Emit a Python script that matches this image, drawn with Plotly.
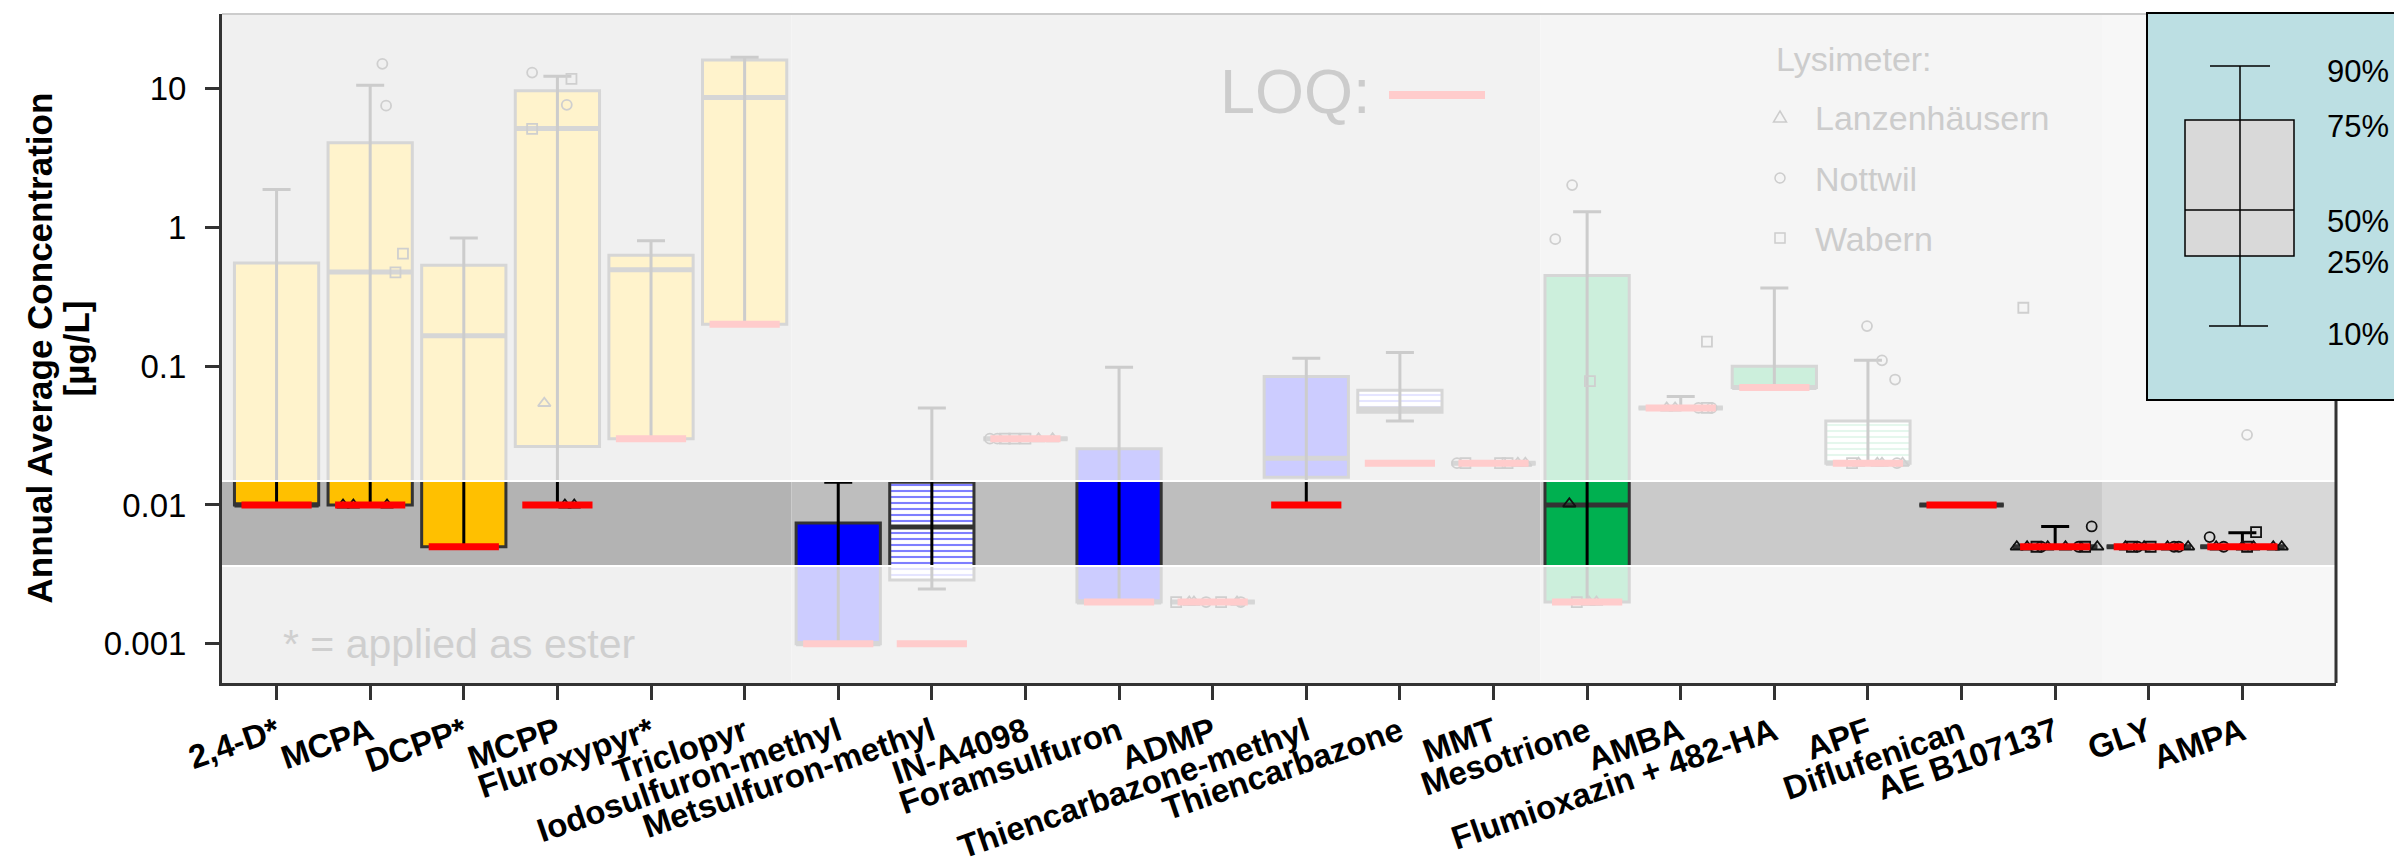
import plotly.graph_objects as go

# ---------------- data ----------------
categories = ["2,4-D*", "MCPA", "DCPP*", "MCPP", "Fluroxypyr*", "Triclopyr",
              "Iodosulfuron-methyl", "Metsulfuron-methyl", "IN-A4098", "Foramsulfuron",
              "ADMP", "Thiencarbazone-methyl", "Thiencarbazone", "MMT", "Mesotrione",
              "AMBA", "Flumioxazin + 482-HA", "APF", "Diflufenican", "AE B107137",
              "GLY", "AMPA"]
p10 = [0.01, 0.01, 0.005, 0.01, 0.03, 0.2, 0.001, 0.00248, 0.03, 0.002, 0.002,
       0.01, 0.0403, 0.02, 0.002, 0.05, 0.07, 0.02, 0.01, 0.005, 0.005, 0.005]
q1 = [0.01, 0.01, 0.005, 0.0264, 0.03, 0.2, 0.001, 0.00288, 0.03, 0.002, 0.002,
      0.0158, 0.0465, 0.02, 0.002, 0.05, 0.07, 0.02, 0.01, 0.005, 0.005, 0.005]
median = [0.01, 0.476, 0.165, 5.13, 0.494, 8.6, 0.001, 0.00695, 0.03, 0.002, 0.002,
          0.0217, 0.049, 0.02, 0.01, 0.05, 0.07, 0.02, 0.01, 0.005, 0.005, 0.005]
q3 = [0.553, 4.05, 0.533, 9.6, 0.628, 15.97, 0.0074, 0.0146, 0.03, 0.0254, 0.002,
      0.084, 0.0671, 0.02, 0.449, 0.05, 0.0996, 0.0403, 0.01, 0.005, 0.005, 0.005]
p90 = [1.87, 10.5, 0.837, 12.2, 0.80, 16.7, 0.0146, 0.0499, 0.03, 0.098, 0.002,
       0.114, 0.125, 0.02, 1.29, 0.0605, 0.365, 0.11, 0.01, 0.007, 0.005, 0.0063]
loq = [0.01, 0.01, 0.005, 0.01, 0.03, 0.2, 0.001, 0.001, 0.03, 0.002, 0.002,
       0.01, 0.02, 0.02, 0.002, 0.05, 0.07, 0.02, 0.01, 0.005, 0.005, 0.005]
box_fill = ["#ffc000"] * 6 + ["#0000ff", "stripe:#0000ff", "flat", "#0000ff", "flat",
            "#0000ff", "stripe:#0000ff", "flat", "#00b050", "flat", "#00b050",
            "stripe:#00b050", "flat", "flat", "flat", "flat"]

# single lysimeter values (category index, horizontal jitter, value, site)
pt_cat = [1, 1, 1, 1, 1, 1, 1,
          3, 3, 3, 3, 3, 3, 3,
          8, 8, 8, 8, 8, 8, 8,
          10, 10, 10, 10, 10, 10, 10,
          13, 13, 13, 13, 13, 13,
          14, 14, 14, 14, 14, 14, 14,
          15, 15, 15, 15, 15, 15,
          17, 17, 17, 17, 17, 17, 17, 17, 17,
          19, 19, 19, 19, 19, 19, 19, 19, 19, 19, 19,
          20, 20, 20, 20, 20, 20, 20, 20, 20,
          21, 21, 21, 21, 21, 21, 21, 21, 21, 21]
pt_jitter = [0.13, 0.17, 0.35, 0.27, -0.29, -0.18, 0.18,
             -0.27, 0.15, 0.10, -0.27, -0.14, 0.08, 0.18,
             -0.38, -0.22, -0.12, 0.0, 0.14, 0.29, -0.30,
             -0.39, -0.25, -0.20, -0.07, 0.09, 0.26, 0.30,
             -0.39, -0.30, 0.07, 0.15, 0.26, 0.34,
             -0.16, -0.34, 0.03, -0.19, -0.11, 0.02, 0.10,
             0.28, -0.15, -0.06, 0.19, 0.28, 0.33,
             -0.01, 0.15, 0.29, -0.17, -0.10, 0.10, 0.15, 0.31, 0.37,
             -0.34, 0.39, -0.41, -0.30, -0.20, -0.15, -0.08, 0.11, 0.25, 0.32, 0.45,
             -0.25, -0.18, -0.12, -0.05, 0.02, 0.20, 0.27, 0.32, 0.42,
             0.05, -0.35, 0.146, -0.28, 0.0, 0.05, 0.12, 0.33, 0.42, -0.20]
pt_value = [15.0, 7.5, 0.645, 0.473, 0.01, 0.01, 0.01,
            12.97, 11.7, 7.6, 5.1, 0.054, 0.01, 0.01,
            0.03, 0.03, 0.03, 0.03, 0.03, 0.03, 0.03,
            0.002, 0.002, 0.002, 0.002, 0.002, 0.002, 0.002,
            0.02, 0.02, 0.02, 0.02, 0.02, 0.02,
            2.01, 0.82, 0.078, 0.0102, 0.002, 0.002, 0.002,
            0.15, 0.05, 0.05, 0.05, 0.05, 0.05,
            0.194, 0.11, 0.080, 0.02, 0.02, 0.02, 0.02, 0.02, 0.02,
            0.263, 0.007, 0.005, 0.005, 0.005, 0.005, 0.005, 0.005, 0.005, 0.005, 0.005,
            0.005, 0.005, 0.005, 0.005, 0.005, 0.005, 0.005, 0.005, 0.005,
            0.032, 0.00587, 0.00638, 0.005, 0.005, 0.005, 0.005, 0.005, 0.005, 0.005]
pt_site = ["N", "N", "W", "W", "L", "L", "L",
           "N", "W", "N", "W", "L", "L", "L",
           "N", "W", "W", "W", "L", "L", "N",
           "W", "L", "L", "N", "W", "L", "N",
           "N", "W", "W", "W", "L", "L",
           "N", "N", "W", "L", "W", "L", "L",
           "W", "L", "L", "N", "W", "N",
           "N", "N", "N", "W", "L", "L", "L", "N", "L",
           "W", "N", "L", "L", "W", "N", "L", "L", "N", "W", "L",
           "L", "W", "N", "L", "W", "L", "N", "N", "L",
           "N", "N", "W", "L", "L", "W", "L", "L", "L", "N"]
site_names = {"L": "Lanzenhäusern", "N": "Nottwil", "W": "Wabern"}
site_symbols = {"L": "triangle-up-open", "N": "circle-open", "W": "square-open"}

group_first = [0, 6, 14, 20]
group_last = [5, 13, 19, 21]
group_color = ["#b3b3b3", "#bebebe", "#cacaca", "#d8d8d8"]

band_low, band_high = 0.00363, 0.0149
legend_pct = ["90%", "75%", "50%", "25%", "10%"]

# ---------------- layout geometry ----------------
W, H = 2402, 860
ML, MR, MT, MB = 214, 74, 6, 185
X_RANGE = [-0.583, 22.0]
Y_RANGE = [-3.282, 1.535]
FONT = "Liberation Sans, Arial, Helvetica, sans-serif"
BOX_W = 0.9
LOQ_HALF = 0.375


def px(x):
    return (x - ML) / (W - ML - MR)


def py(y):
    return (H - MB - y) / (H - MT - MB)


n = len(categories)
idx = list(range(n))
fig = go.Figure()

# patterned (striped) boxes as bars underneath
for col in ["#0000ff", "#00b050"]:
    sel = [i for i in idx if box_fill[i] == "stripe:" + col]
    fig.add_trace(go.Bar(
        x=sel, base=[q1[i] for i in sel], y=[q3[i] - q1[i] for i in sel],
        width=BOX_W, marker=dict(color="white", line=dict(width=0),
                                 pattern=dict(shape="-", fgcolor=col, bgcolor="white",
                                              size=6, solidity=0.35)),
        hoverinfo="skip", showlegend=False))

# boxes
fill_keys = []
for f in box_fill:
    if f not in fill_keys:
        fill_keys.append(f)
for f in fill_keys:
    sel = [i for i in idx if box_fill[i] == f]
    fc = f if f.startswith("#") else "rgba(0,0,0,0)"
    fig.add_trace(go.Box(
        x=sel, q1=[q1[i] for i in sel], median=[median[i] for i in sel],
        q3=[q3[i] for i in sel], lowerfence=[q1[i] for i in sel],
        upperfence=[q3[i] for i in sel], width=BOX_W, whiskerwidth=0,
        fillcolor=fc, line=dict(color="#333333", width=3),
        boxpoints=False, hoverinfo="skip", showlegend=False))

# thick median lines
mx, my = [], []
for i in idx:
    mx += [i - BOX_W / 2, i + BOX_W / 2, None]
    my += [median[i], median[i], None]
fig.add_trace(go.Scatter(x=mx, y=my, mode="lines",
                         line=dict(color="#333333", width=5),
                         hoverinfo="skip", showlegend=False))

# whiskers 10% - 90%
fig.add_trace(go.Scatter(
    x=idx, y=median, mode="markers",
    marker=dict(size=1, color="rgba(0,0,0,0)"),
    error_y=dict(type="data", symmetric=False,
                 array=[p90[i] - median[i] for i in idx],
                 arrayminus=[median[i] - p10[i] for i in idx],
                 color="black", thickness=3, width=14),
    hoverinfo="skip", showlegend=False))

# single values per lysimeter
for s in ["L", "N", "W"]:
    sel = [k for k in range(len(pt_cat)) if pt_site[k] == s]
    fig.add_trace(go.Scatter(
        x=[pt_cat[k] + pt_jitter[k] for k in sel], y=[pt_value[k] for k in sel],
        mode="markers", name=site_names[s],
        marker=dict(symbol=site_symbols[s], size=11 if s == "L" else 10,
                    color="#111111", line=dict(width=1.8)),
        hoverinfo="skip", showlegend=False))

# LOQ lines
lx, ly = [], []
for i in idx:
    lx += [i - LOQ_HALF, i + LOQ_HALF, None]
    ly += [loq[i], loq[i], None]
fig.add_trace(go.Scatter(x=lx, y=ly, mode="lines",
                         line=dict(color="#ff0000", width=7),
                         hoverinfo="skip", showlegend=False))

shapes = []
# group backgrounds
for g in range(len(group_first)):
    x0 = X_RANGE[0] if g == 0 else group_first[g] - 0.5
    x1 = X_RANGE[1] if g == len(group_first) - 1 else group_last[g] + 0.5
    shapes.append(dict(type="rect", layer="below", xref="x", yref="y domain",
                       x0=x0, x1=x1, y0=0, y1=1, fillcolor=group_color[g],
                       line=dict(width=0)))
# white veil outside the highlighted band
for y0, y1 in [(band_high, 10 ** Y_RANGE[1]), (10 ** Y_RANGE[0], band_low)]:
    shapes.append(dict(type="rect", layer="above", xref="x domain", yref="y",
                       x0=0, x1=1, y0=y0, y1=y1, fillcolor="white", opacity=0.8,
                       line=dict(width=0)))
for yb in [band_low, band_high]:
    shapes.append(dict(type="line", layer="above", xref="x domain", yref="y",
                       x0=0, x1=1, y0=yb, y1=yb, line=dict(color="white", width=2)))
# panel borders top / right
shapes.append(dict(type="line", layer="above", xref="paper", yref="paper",
                   x0=0, x1=1, y0=1, y1=1, line=dict(color="#cccccc", width=2)))
shapes.append(dict(type="line", layer="above", xref="paper", yref="paper",
                   x0=1, x1=1, y0=0, y1=1, line=dict(color="#333333", width=3)))
# LOQ key
shapes.append(dict(type="line", layer="above", xref="paper", yref="paper",
                   x0=px(1381), x1=px(1477), y0=py(87), y1=py(87),
                   line=dict(color="#ffcccc", width=8)))
# lysimeter symbols
sym_y = [109, 170, 230]
shapes.append(dict(type="path", layer="above", xref="paper", yref="paper",
                   xsizemode="pixel", ysizemode="pixel", xanchor=px(1772), yanchor=py(sym_y[0]),
                   path="M -6.5,-5 L 6.5,-5 L 0,6 Z", line=dict(color="#cccccc", width=1.5)))
shapes.append(dict(type="circle", layer="above", xref="paper", yref="paper",
                   xsizemode="pixel", ysizemode="pixel", xanchor=px(1772), yanchor=py(sym_y[1]),
                   x0=-5, x1=5, y0=-5, y1=5, line=dict(color="#cccccc", width=1.5)))
shapes.append(dict(type="rect", layer="above", xref="paper", yref="paper",
                   xsizemode="pixel", ysizemode="pixel", xanchor=px(1772), yanchor=py(sym_y[2]),
                   x0=-5, x1=5, y0=-5, y1=5, line=dict(color="#cccccc", width=1.5)))
# percentile key box
shapes.append(dict(type="rect", layer="above", xref="paper", yref="paper",
                   x0=px(2139), x1=px(2395), y0=py(392), y1=py(5),
                   fillcolor="#bcdfe3", line=dict(color="black", width=2)))
shapes.append(dict(type="line", layer="above", xref="paper", yref="paper",
                   x0=px(2232), x1=px(2232), y0=py(318), y1=py(58),
                   line=dict(color="black", width=1.5)))
shapes.append(dict(type="rect", layer="above", xref="paper", yref="paper",
                   x0=px(2177), x1=px(2286), y0=py(248), y1=py(112),
                   fillcolor="#d9d9d9", line=dict(color="black", width=1.5)))
shapes.append(dict(type="line", layer="above", xref="paper", yref="paper",
                   x0=px(2232), x1=px(2232), y0=py(248), y1=py(112),
                   line=dict(color="black", width=1.5)))
for yy, xa, xb in [(202, 2177, 2286), (58, 2202, 2262), (318, 2201, 2260)]:
    shapes.append(dict(type="line", layer="above", xref="paper", yref="paper",
                       x0=px(xa), x1=px(xb), y0=py(yy), y1=py(yy),
                       line=dict(color="black", width=1.5)))

annotations = []
for txt, xc in [("Annual Average Concentration", 31), ("[µg/L]", 68)]:
    annotations.append(dict(text=txt, textangle=-90,
                            xref="paper", yref="paper", x=px(xc), y=0.5,
                            xanchor="center", yanchor="middle", showarrow=False,
                            font=dict(family=FONT, size=35, color="black", weight="bold")))
annotations.append(dict(text="* = applied as ester", xref="paper", yref="paper",
                        x=px(273), y=py(636), xanchor="left", yanchor="middle",
                        showarrow=False, font=dict(family=FONT, size=41, color="#cfcfcf")))
annotations.append(dict(text="LOQ:", xref="paper", yref="paper",
                        x=px(1210), y=py(83), xanchor="left", yanchor="middle",
                        showarrow=False, font=dict(family=FONT, size=63, color="#cccccc")))
annotations.append(dict(text="Lysimeter:", xref="paper", yref="paper",
                        x=px(1766), y=py(51), xanchor="left", yanchor="middle",
                        showarrow=False, font=dict(family=FONT, size=34, color="#cccccc")))
for s, yy in zip(["L", "N", "W"], [110, 171, 231]):
    annotations.append(dict(text=site_names[s], xref="paper", yref="paper",
                            x=px(1805), y=py(yy), xanchor="left", yanchor="middle",
                            showarrow=False, font=dict(family=FONT, size=34, color="#cccccc")))
for lab, yy in zip(legend_pct, [64, 118, 214, 254, 326]):
    annotations.append(dict(text=lab, xref="paper", yref="paper",
                            x=px(2383), y=py(yy), xanchor="right", yanchor="middle",
                            showarrow=False, font=dict(family=FONT, size=31, color="black")))

fig.update_layout(
    width=W, height=H,
    margin=dict(l=ML, r=MR, t=MT, b=MB, autoexpand=False),
    paper_bgcolor="white", plot_bgcolor="white",
    boxmode="overlay", barmode="overlay", showlegend=False,
    shapes=shapes, annotations=annotations,
    font=dict(family=FONT),
    xaxis=dict(range=X_RANGE, tickmode="array", tickvals=idx, ticktext=categories,
               tickangle=-19, tickfont=dict(family=FONT, size=33, color="black", weight="bold"),
               ticks="outside", ticklen=14, tickwidth=3, tickcolor="#333333",
               showline=True, linecolor="#333333", linewidth=3,
               showgrid=False, zeroline=False, automargin=False),
    yaxis=dict(type="log", range=Y_RANGE, tickmode="array",
               tickvals=[0.001, 0.01, 0.1, 1, 10],
               ticktext=["0.001", "0.01", "0.1", "1", "10"],
               tickfont=dict(family=FONT, size=33, color="black"),
               ticks="outside", ticklen=14, tickwidth=3, tickcolor="#333333",
               ticklabelstandoff=12,
               showline=True, linecolor="#333333", linewidth=3,
               showgrid=False, zeroline=False, automargin=False),
)

fig.write_html("out.html")
